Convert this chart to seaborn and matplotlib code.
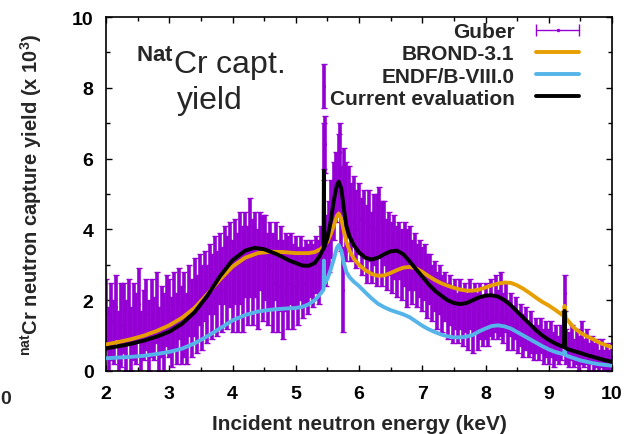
import numpy as np
import pandas as pd
import matplotlib
matplotlib.use("Agg")
import matplotlib.pyplot as plt
import seaborn as sns
from matplotlib.lines import Line2D
from matplotlib.legend_handler import HandlerLine2D, HandlerTuple
from matplotlib.ticker import MultipleLocator

# ---------------- data ----------------
guber_energy = np.round(np.arange(2.0, 10.0001, 0.04), 2)
guber_yield = [
    1.6, 0.9, 1.4, 1.1, 1.8, 0.8, 1.3, 1.5, 1.0, 1.7, 0.9, 1.4, 1.2, 1.9, 0.8, 1.3, 1.6, 1.0, 1.5, 1.2, 1.8, 0.9, 1.4, 1.1, 1.7,
    1.5, 1.1, 1.7, 1.2, 1.9, 1.3, 1.6, 1.2, 2.0, 1.5, 2.1, 1.6, 2.3, 1.8, 2.4, 1.9, 2.6, 2.1, 2.7, 2.2, 2.9, 2.3, 3.0, 2.5, 3.0,
    2.4, 3.1, 2.5, 3.2, 2.6, 3.3, 2.7, 3.5, 2.8, 3.3, 2.6, 3.4, 2.9, 3.2, 2.6, 3.0, 2.5, 3.1, 2.4, 2.9, 2.3, 2.8, 2.5, 2.9, 2.4,
    2.8, 2.4, 2.9, 2.5, 2.8, 2.6, 2.9, 2.7, 3.0, 2.8, 3.2, 4.2, 3.4, 3.8, 4.3, 4.8, 5.2, 5.6, 4.6, 5.3, 4.5, 4.9, 4.2, 4.6, 4.0,
    4.3, 3.8, 4.2, 3.6, 4.1, 3.5, 4.0, 3.7, 4.2, 3.6, 3.9, 3.3, 3.6, 3.2, 3.5, 3.1, 3.4, 3.0, 3.3, 2.9, 3.2, 2.8, 3.1, 2.7, 2.9,
    2.6, 2.8, 2.4, 2.6, 2.2, 2.4, 2.0, 2.3, 1.9, 2.1, 1.7, 2.0, 1.6, 1.9, 1.5, 1.9, 1.5, 1.8, 1.4, 1.9, 1.4, 1.8, 1.4, 1.7, 1.4,
    1.7, 1.4, 1.8, 1.5, 1.9, 1.6, 1.9, 1.5, 1.8, 1.3, 1.6, 1.2, 1.5, 1.1, 1.3, 1.0, 1.2, 0.9, 1.1, 0.8, 1.0, 0.8, 1.0, 0.7, 0.9,
    0.7, 0.9, 0.6, 0.8, 0.6, 0.8, 1.2, 0.7, 0.6, 0.8, 0.5, 0.7, 0.5, 0.8, 0.5, 0.7, 0.4, 0.6, 0.4, 0.5, 0.3, 0.5, 0.3, 0.4, 0.3,
    0.4,
]
guber_err = [
    1.0, 0.9, 1.1, 0.9, 0.9, 0.9, 1.2, 1.0, 1.0, 0.9, 0.9, 1.1, 1.0, 1.0, 0.9, 1.0, 1.0, 1.0, 1.1, 0.9, 1.0, 0.9, 1.0, 1.1, 1.0,
    1.1, 1.0, 1.1, 1.0, 1.0, 1.1, 1.2, 1.0, 1.0, 1.1, 1.1, 1.1, 1.0, 1.2, 1.0, 1.1, 1.0, 1.2, 1.1, 1.2, 1.0, 1.2, 1.1, 1.3, 1.2,
    1.3, 1.2, 1.4, 1.3, 1.5, 1.2, 1.4, 1.4, 1.5, 1.2, 1.4, 1.1, 1.5, 1.2, 1.3, 1.2, 1.4, 1.1, 1.3, 1.2, 1.4, 1.1, 1.3, 1.0, 1.2,
    1.0, 1.1, 0.9, 1.0, 0.9, 1.0, 0.8, 0.9, 0.8, 0.9, 0.9, 1.5, 1.0, 1.0, 1.1, 1.1, 1.0, 1.1, 1.2, 1.0, 1.4, 0.9, 1.1, 0.9, 1.1,
    1.0, 1.1, 0.9, 1.1, 1.0, 1.0, 1.0, 1.3, 1.0, 1.2, 0.9, 1.0, 0.9, 1.0, 0.9, 1.0, 0.8, 1.0, 0.9, 1.1, 0.9, 0.9, 0.8, 0.9, 0.8,
    0.9, 0.8, 0.9, 0.7, 0.8, 0.7, 0.8, 0.7, 0.8, 0.7, 0.8, 0.7, 0.8, 0.7, 0.7, 0.7, 0.8, 0.7, 0.8, 0.7, 0.9, 0.7, 0.8, 0.8, 0.7,
    0.8, 0.7, 0.8, 0.6, 0.8, 0.7, 0.9, 0.7, 0.7, 0.7, 0.6, 0.6, 0.6, 0.6, 0.6, 0.6, 0.6, 0.5, 0.6, 0.5, 0.5, 0.5, 0.5, 0.5, 0.5,
    0.5, 0.5, 0.5, 0.5, 0.4, 0.5, 0.5, 0.5, 0.5, 0.5, 0.4, 0.5, 0.5, 0.6, 0.4, 0.5, 0.4, 0.4, 0.4, 0.4, 0.3, 0.4, 0.3, 0.4, 0.3,
    0.4,
]
# isolated points around the narrow resonances
spike_energy = [5.44, 5.45, 5.46, 5.70, 5.75, 9.25]
spike_yield = [8.05, 6.2, 6.4, 6.2, 2.3, 2.2]
spike_err = [0.62, 0.8, 0.8, 0.8, 1.2, 0.5]

brond_energy = [2.0, 2.2, 2.4, 2.6, 2.8, 3.0, 3.2, 3.4, 3.6, 3.8, 4.0, 4.2, 4.4, 4.6, 4.8, 5.0, 5.2, 5.3, 5.4,
                5.5, 5.55, 5.6, 5.65, 5.68, 5.72, 5.76, 5.8, 5.85, 5.92, 6.0, 6.1, 6.2, 6.3, 6.4, 6.5, 6.6,
                6.7, 6.8, 6.9, 7.0, 7.1, 7.2, 7.3, 7.4, 7.5, 7.6, 7.7, 7.8, 7.9, 8.0, 8.1, 8.2, 8.3, 8.4,
                8.5, 8.6, 8.7, 8.8, 8.9, 9.0, 9.1, 9.2, 9.24, 9.25, 9.27, 9.3, 9.4, 9.5, 9.6, 9.7, 9.8, 9.9, 10.0]
brond_yield = [0.75, 0.82, 0.9, 1.0, 1.13, 1.29, 1.5, 1.78, 2.17, 2.58, 2.95, 3.2, 3.33, 3.37, 3.36, 3.33, 3.33, 3.36, 3.45,
               3.65, 3.85, 4.1, 4.38, 4.45, 4.3, 3.95, 3.65, 3.4, 3.17, 3.0, 2.85, 2.74, 2.69, 2.7, 2.77, 2.85,
               2.92, 2.94, 2.9, 2.8, 2.68, 2.57, 2.48, 2.41, 2.35, 2.3, 2.27, 2.27, 2.3, 2.36, 2.42, 2.47, 2.5, 2.49,
               2.42, 2.32, 2.2, 2.07, 1.95, 1.85, 1.73, 1.6, 1.56, 1.84, 1.5, 1.43, 1.22, 1.08, 0.98, 0.9, 0.8, 0.73, 0.67]

endf_energy = [2.0, 2.2, 2.4, 2.6, 2.8, 3.0, 3.2, 3.4, 3.6, 3.8, 4.0, 4.2, 4.4, 4.6, 4.8, 5.0, 5.1, 5.2, 5.3, 5.4,
               5.44, 5.445, 5.452, 5.5, 5.55, 5.6, 5.65, 5.68, 5.72, 5.76, 5.8, 5.85, 5.92, 6.0, 6.1, 6.2, 6.3,
               6.4, 6.5, 6.6, 6.7, 6.8, 6.9, 7.0, 7.1, 7.2, 7.3, 7.4, 7.5, 7.6, 7.7, 7.8, 7.9, 8.0, 8.1, 8.2,
               8.3, 8.4, 8.5, 8.6, 8.7, 8.8, 8.9, 9.0, 9.1, 9.2, 9.24, 9.25, 9.26, 9.3, 9.4, 9.5, 9.6, 9.7, 9.8,
               9.9, 10.0]
endf_yield = [0.36, 0.38, 0.40, 0.43, 0.48, 0.54, 0.63, 0.78, 0.98, 1.2, 1.43, 1.58, 1.68, 1.73, 1.76, 1.78, 1.81, 1.88, 2.0, 2.2,
              2.3, 3.12, 2.46, 2.6, 2.85, 3.15, 3.48, 3.56, 3.4, 3.05, 2.8, 2.65, 2.52, 2.4, 2.22, 2.05, 1.9,
              1.8, 1.72, 1.66, 1.6, 1.52, 1.4, 1.28, 1.18, 1.1, 1.03, 0.98, 0.95, 0.95, 0.97, 1.02, 1.12, 1.2, 1.27, 1.29,
              1.26, 1.2, 1.1, 1.0, 0.9, 0.8, 0.7, 0.61, 0.54, 0.49, 0.47, 0.57, 0.46, 0.42, 0.36, 0.3, 0.26, 0.22, 0.19,
              0.17, 0.15]

current_energy = [2.0, 2.2, 2.4, 2.6, 2.8, 3.0, 3.2, 3.4, 3.6, 3.8, 4.0, 4.2, 4.35, 4.5, 4.7, 4.9, 5.1, 5.2, 5.3, 5.38,
                  5.42, 5.44, 5.445, 5.452, 5.5, 5.55, 5.6, 5.65, 5.68, 5.72, 5.76, 5.8, 5.85, 5.92, 6.0, 6.1, 6.2,
                  6.3, 6.4, 6.5, 6.6, 6.7, 6.8, 6.9, 7.0, 7.1, 7.2, 7.3, 7.4, 7.5, 7.6, 7.7, 7.8, 7.9, 8.0, 8.1,
                  8.2, 8.3, 8.4, 8.5, 8.6, 8.7, 8.8, 8.9, 9.0, 9.1, 9.2, 9.24, 9.25, 9.26, 9.3, 9.4, 9.5, 9.6, 9.7,
                  9.8, 9.9, 10.0]
current_yield = [0.64, 0.70, 0.77, 0.86, 0.97, 1.11, 1.33, 1.66, 2.12, 2.67, 3.13, 3.40, 3.48, 3.44, 3.30, 3.12, 2.98, 2.97, 3.05, 3.25,
                 3.4, 3.45, 5.66, 3.5, 3.75, 4.2, 4.8, 5.25, 5.35, 5.15, 4.6, 4.1, 3.8, 3.55, 3.35, 3.2, 3.15,
                 3.2, 3.3, 3.38, 3.40, 3.3, 3.1, 2.88, 2.67, 2.45, 2.27, 2.13, 2.0, 1.92, 1.89, 1.92, 2.0, 2.08, 2.13, 2.14,
                 2.1, 2.0, 1.86, 1.68, 1.5, 1.33, 1.15, 1.0, 0.88, 0.78, 0.70, 0.68, 1.70, 0.66, 0.62, 0.56, 0.51, 0.45, 0.4,
                 0.35, 0.30, 0.26]

x_ticks = [2, 3, 4, 5, 6, 7, 8, 9, 10]
y_ticks = [0, 2, 4, 6, 8, 10]

PURPLE = "#9400d3"
ORANGE = "#e69f00"
BLUE = "#56b4e9"
BLACK = "#000000"

# ---------------- style ----------------
sns.set_theme(style="ticks")
plt.rcParams["font.family"] = ["Liberation Sans", "DejaVu Sans"]
plt.rcParams["font.weight"] = "bold"
plt.rcParams["mathtext.fontset"] = "custom"
plt.rcParams["mathtext.rm"] = "Liberation Sans"
plt.rcParams["mathtext.bf"] = "Liberation Sans:bold"
plt.rcParams["mathtext.it"] = "Liberation Sans:italic"

fig = plt.figure(figsize=(6.31, 4.35), dpi=100)
ax = fig.add_axes([106 / 631, 63 / 435, 506 / 631, 354 / 435])

# Guber data with error bars
ge = np.concatenate([guber_energy, spike_energy])
gy = np.concatenate([guber_yield, spike_yield])
gerr = np.concatenate([guber_err, spike_err])
ax.errorbar(ge, gy, yerr=gerr, fmt=".", color=PURPLE, ecolor=PURPLE, markersize=2.5,
            elinewidth=2.6, capsize=2.5, capthick=1.0, zorder=1)

df_b = pd.DataFrame({"E": brond_energy, "Y": brond_yield})
df_e = pd.DataFrame({"E": endf_energy, "Y": endf_yield})
df_c = pd.DataFrame({"E": current_energy, "Y": current_yield})
sns.lineplot(data=df_b, x="E", y="Y", color=ORANGE, lw=2.8, ax=ax, estimator=None, sort=False, zorder=3)
sns.lineplot(data=df_e, x="E", y="Y", color=BLUE, lw=2.8, ax=ax, estimator=None, sort=False, zorder=3)
sns.lineplot(data=df_c, x="E", y="Y", color=BLACK, lw=2.8, ax=ax, estimator=None, sort=False, zorder=4)

ax.set_xlim(2, 10)
ax.set_ylim(0, 10)
ax.set_xticks(x_ticks)
ax.set_yticks(y_ticks)
ax.xaxis.set_minor_locator(MultipleLocator(0.5))
ax.yaxis.set_minor_locator(MultipleLocator(1))
ax.tick_params(which="both", direction="in", top=True, right=True, width=1.0, labelsize=14, colors="black")
ax.tick_params(which="major", length=4.5)
ax.tick_params(axis="y", which="major", pad=9)
ax.tick_params(axis="x", which="major", pad=10)
ax.tick_params(which="minor", length=3)
for lab in ax.get_xticklabels() + ax.get_yticklabels():
    lab.set_fontweight("bold")
for s in ax.spines.values():
    s.set_linewidth(1.2)
    s.set_color("black")
    s.set_visible(True)

ax.set_xlabel("Incident neutron energy (keV)", fontsize=15, fontweight="bold", labelpad=9)
ax.set_ylabel(r"$^{\mathbf{nat}}$Cr neutron capture yield (x 10$^{\mathbf{3}}$)", fontsize=14.5,
              fontweight="bold", labelpad=20)

ax.text(0.205, 0.925, r"$^{\mathrm{Nat}}$Cr capt." + "\n" + "yield", transform=ax.transAxes,
        ha="center", va="top", fontsize=23, fontweight="normal", multialignment="center",
        linespacing=1.12)

# legend
g_line = Line2D([], [], color=PURPLE, lw=1.0, marker="|", markersize=8, markeredgewidth=1.0)
g_dot = Line2D([], [], color=PURPLE, ls="none", marker=".", markersize=3)
h_b = Line2D([], [], color=ORANGE, lw=2.8)
h_e = Line2D([], [], color=BLUE, lw=2.8)
h_c = Line2D([], [], color=BLACK, lw=2.8)
leg = ax.legend([(g_line, g_dot), h_b, h_e, h_c],
                ["Guber", "BROND-3.1", "ENDF/B-VIII.0", "Current evaluation"],
                handler_map={g_dot: HandlerLine2D(numpoints=1), tuple: HandlerTuple(ndivide=1)},
                numpoints=2, markerfirst=False, frameon=False, loc="upper right",
                bbox_to_anchor=(0.948, 0.985), borderaxespad=0, borderpad=0,
                handlelength=2.7, handletextpad=0.72, labelspacing=0.15,
                prop={"size": 15, "weight": "bold"})

# label from neighbouring panel at the left edge
fig.text(0.0, 1 - 400 / 435, "0", ha="left", va="center", fontsize=14, fontweight="bold")

fig.savefig("out.png", dpi=100)
